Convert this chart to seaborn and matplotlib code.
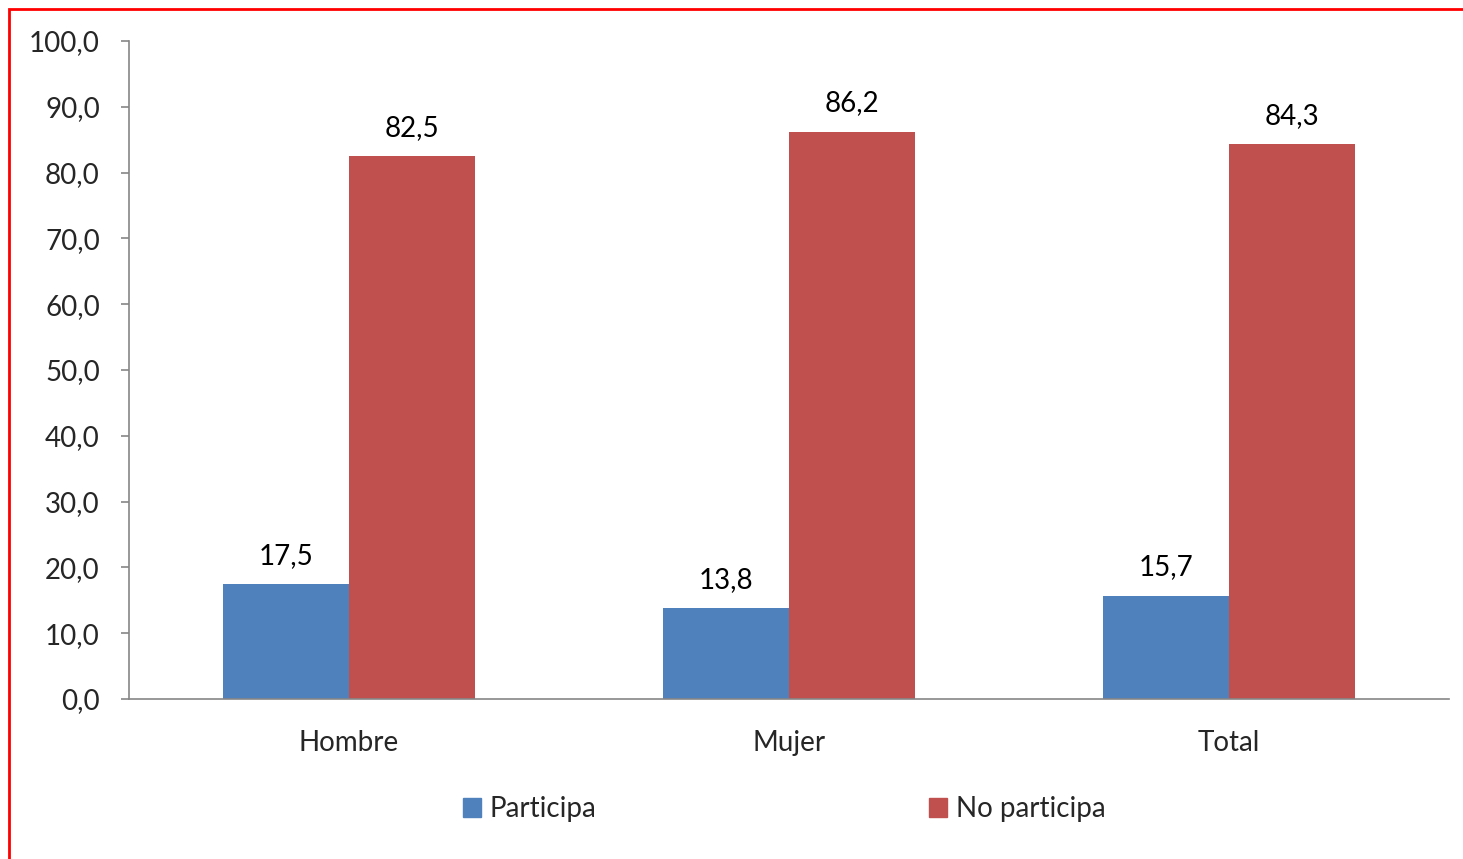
import matplotlib
matplotlib.use("Agg")
import matplotlib.pyplot as plt
import matplotlib.patches as mpatches
import pandas as pd
import seaborn as sns

categories = ["Hombre", "Mujer", "Total"]
series = ["Participa", "No participa"]
participa = [17.5, 13.8, 15.7]
no_participa = [82.5, 86.2, 84.3]
colors = ["#4F81BD", "#C0504D"]

df = pd.DataFrame({
    "categoria": categories * 2,
    "serie": [series[0]] * 3 + [series[1]] * 3,
    "valor": participa + no_participa,
})

sns.set_style("white")
plt.rcParams["font.family"] = ["Lato", "DejaVu Sans"]
FS = 20

W, H = 1463, 859
fig = plt.figure(figsize=(W / 100, H / 100), dpi=100)
ax = fig.add_axes([129 / W, 1 - 699 / H, (1449 - 129) / W, (699 - 41) / H])

sns.barplot(data=df, x="categoria", y="valor", hue="serie", order=categories,
            hue_order=series, palette=colors, width=0.573, saturation=1,
            linewidth=0, ax=ax, legend=False)

fmt = lambda v: f"{v:.1f}".replace(".", ",")
for cont in ax.containers:
    ax.bar_label(cont, labels=[fmt(b.get_height()) for b in cont], padding=11,
                 fontsize=FS, color="black")

ax.set_xlim(-0.5, 2.5)
ax.set_ylim(0, 100)
ax.set_yticks(range(0, 101, 10))
ax.set_yticklabels([fmt(v) for v in range(0, 101, 10)], fontsize=FS)
ax.set_xlabel("")
ax.set_ylabel("")

# Category labels centered, tick marks at boundaries
ax.set_xticks([0, 1, 2])
ax.set_xticklabels(categories, fontsize=FS)
ax.tick_params(axis="x", length=0, pad=22)
ax.set_xticks([-0.5, 0.5, 1.5, 2.5], minor=True)
ax.tick_params(axis="x", which="minor", length=8, width=1.2, color="#868686",
               direction="out")
ax.tick_params(axis="y", length=6, width=1.2, color="#868686", direction="out",
               left=True, pad=15)

for side in ["top", "right"]:
    ax.spines[side].set_visible(False)
for side in ["left", "bottom"]:
    ax.spines[side].set_color("#868686")
    ax.spines[side].set_linewidth(1.2)

handles = [mpatches.Patch(color=c, label=s) for c, s in zip(colors, series)]
fig.legend(handles=handles, loc="center", bbox_to_anchor=(784 / W, 1 - 809 / H),
           ncol=2, frameon=False, fontsize=FS, handlelength=0.65,
           handleheight=0.65, handletextpad=0.3, columnspacing=12.0)

# Red outer border (top and left edges visible)
fig.patches.append(mpatches.Rectangle((9 / W, -0.05), 1.1, 1 - 9 / H + 0.05,
                                      transform=fig.transFigure, fill=False,
                                      edgecolor="#FF0000", linewidth=2))

fig.savefig("out.png", dpi=100)
